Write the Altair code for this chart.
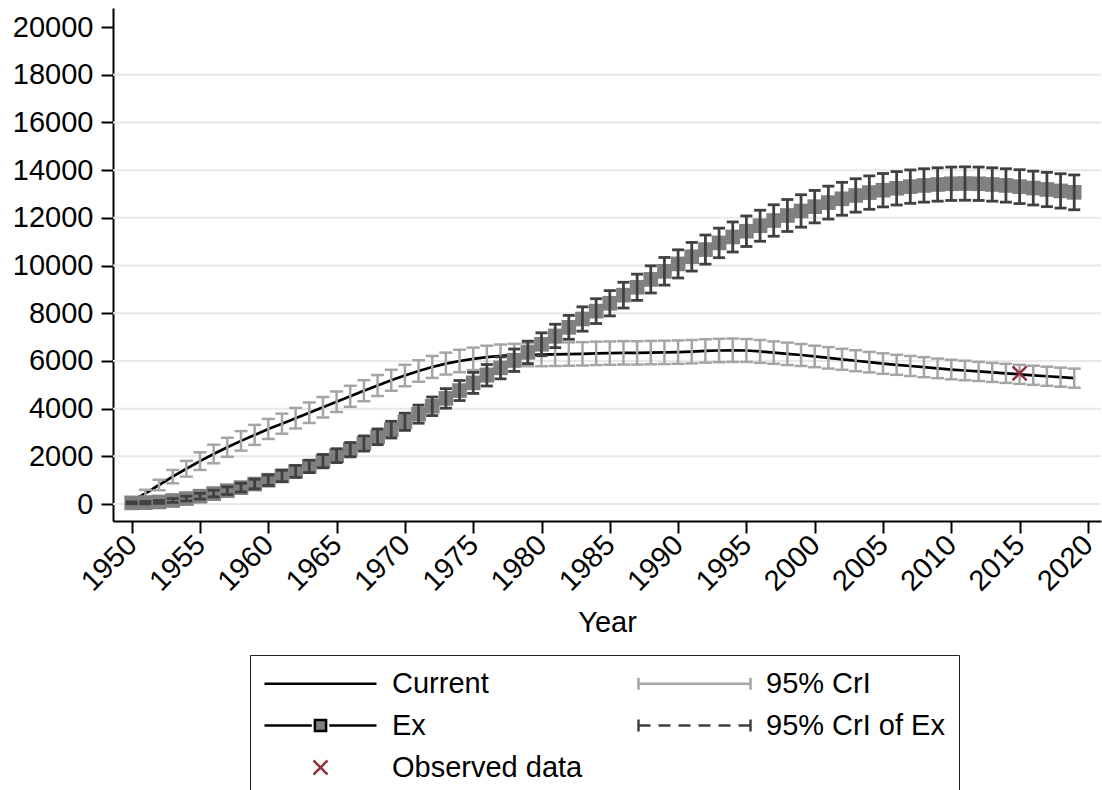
import altair as alt
import pandas as pd

FONT = "Arial"
FS = 29

# ---- data -------------------------------------------------------------
years = list(range(1950, 2020))

current = [
    120, 450, 800, 1150, 1480, 1800, 2100, 2380, 2650, 2900,
    3150, 3370, 3600, 3830, 4060, 4290, 4520, 4750, 4970, 5190,
    5390, 5580, 5750, 5890, 6000, 6090, 6160, 6210, 6240, 6260,
    6270, 6280, 6290, 6300, 6320, 6330, 6340, 6340, 6350, 6360,
    6370, 6390, 6420, 6440, 6450, 6440, 6400, 6350, 6300, 6250,
    6190, 6130, 6070, 6010, 5950, 5890, 5840, 5790, 5740, 5690,
    5640, 5600, 5560, 5520, 5480, 5440, 5400, 5360, 5320, 5280,
]
current_hw = [
    60, 150, 220, 280, 330, 370, 390, 400, 410, 420,
    420, 420, 430, 430, 430, 430, 440, 440, 440, 440,
    450, 450, 460, 460, 470, 470, 480, 480, 480, 480,
    490, 490, 490, 490, 490, 490, 490, 490, 490, 490,
    490, 490, 490, 490, 490, 480, 480, 470, 470, 460,
    450, 450, 440, 440, 430, 430, 420, 420, 420, 410,
    410, 410, 400, 400, 400, 400, 400, 400, 400, 400,
]
ex = [
    50, 60, 90, 150, 230, 330, 440, 560, 690, 840,
    1000, 1180, 1370, 1580, 1800, 2030, 2280, 2540, 2820, 3120,
    3450, 3770, 4100, 4430, 4760, 5080, 5400, 5710, 6030, 6360,
    6700, 7050, 7410, 7760, 8090, 8420, 8760, 9090, 9420, 9760,
    10070, 10370, 10670, 10950, 11200, 11440, 11670, 11890, 12100, 12290,
    12470, 12640, 12800, 12940, 13060, 13160, 13240, 13310, 13360, 13400,
    13430, 13440, 13430, 13400, 13360, 13310, 13250, 13190, 13130, 13070,
]
ex_hw = [
    40, 50, 60, 80, 100, 120, 140, 160, 180, 200,
    220, 240, 250, 260, 280, 290, 300, 320, 330, 350,
    360, 380, 390, 410, 420, 440, 450, 460, 470, 470,
    480, 490, 500, 510, 520, 530, 540, 550, 570, 580,
    590, 600, 610, 620, 630, 640, 650, 660, 670, 680,
    680, 690, 690, 700, 700, 700, 700, 700, 700, 700,
    700, 700, 700, 700, 700, 710, 710, 720, 720, 730,
]
observed_year = [2015]
observed_value = [5480]

y_ticks = [0, 2000, 4000, 6000, 8000, 10000, 12000, 14000, 16000, 18000, 20000]
grid_values = [0, 2000, 4000, 6000, 8000, 10000, 12000, 14000, 16000, 18000]
x_ticks = [1950, 1955, 1960, 1965, 1970, 1975, 1980, 1985, 1990, 1995,
           2000, 2005, 2010, 2015, 2020]

# legend entries, listed column by column (two columns)
legend_labels = ["Current", "Ex", "Observed data", "95% CrI", "95% CrI of Ex"]

# ---- colours ------------------------------------------------------------
BLACK = "#000000"
CI_GRAY = "#a5a5a5"
EX_GRAY = "#808080"
EX_CI = "#404040"
OBS = "#902d3e"
GRID = "#e8e8e8"

df = pd.DataFrame({
    "year": years,
    "current": current,
    "cur_lo": [c - h for c, h in zip(current, current_hw)],
    "cur_hi": [c + h for c, h in zip(current, current_hw)],
    "ex": ex,
    "ex_lo": [c - h for c, h in zip(ex, ex_hw)],
    "ex_hi": [c + h for c, h in zip(ex, ex_hw)],
})
obs_df = pd.DataFrame({"year": observed_year, "value": observed_value})
grid_df = pd.DataFrame({"g": grid_values})

# ---- scales / axes ------------------------------------------------------
xs = alt.Scale(domain=[1948.63, 2020.96], nice=False, zero=False)
ys = alt.Scale(domain=[-710, 20800], nice=False, zero=False)

x_axis = alt.Axis(values=x_ticks, format="d", labelAngle=-45, labelAlign="right",
                  labelBaseline="middle", tickSize=12, tickWidth=2, domainWidth=2,
                  labelPadding=7, grid=False, title="Year", titlePadding=12)
y_axis = alt.Axis(values=y_ticks, format="d", tickSize=12, tickWidth=2,
                  domainWidth=2, labelPadding=8, grid=False, title=None)

X = alt.X("year:Q", scale=xs, axis=x_axis)


def Y(field):
    return alt.Y(f"{field}:Q", scale=ys, axis=y_axis)


# ---- legend keys: custom symbol paths (7 px per unit at size 196) -------
key_shapes = [
    "M-8,0H8",                                       # Current
    "M-8,0H-1.25M1.25,0H8M-0.8,-0.8H0.8V0.8H-0.8Z",  # Ex
    "M-1,-1L1,1M-1,1L1,-1",                          # Observed data
    "M-8,-0.85V0.85M8,-0.85V0.85M-8,0H8",            # 95% CrI
    "M-8,-0.85V0.85M8,-0.85V0.85M-8,0H8",            # 95% CrI of Ex
]
key_strokes = [BLACK, BLACK, OBS, CI_GRAY, EX_CI]
key_fills = ["transparent", EX_GRAY, "transparent", "transparent", "transparent"]
key_dashes = [[1, 0], [1, 0], [1, 0], [1, 0], [12, 8]]


def make_legend():
    return alt.Legend(
        title=None, orient="none", legendX=137, legendY=647, columns=2,
        columnPadding=50, rowPadding=12, padding=14, strokeColor="#222222",
        fillColor="white", labelFont=FONT, labelFontSize=FS, labelColor="black",
        labelLimit=400, symbolSize=196, symbolOffset=42, labelOffset=57,
        symbolStrokeWidth=2.5, symbolOpacity=1,
    )


# ---- layers -------------------------------------------------------------
grid = alt.Chart(grid_df).mark_rule(color=GRID, strokeWidth=2).encode(y=Y("g"))

cur_line = alt.Chart(df).mark_line(color=BLACK, strokeWidth=2.7).encode(
    x=X, y=Y("current"))
cur_rule = alt.Chart(df).mark_rule(color=CI_GRAY, strokeWidth=2.5).encode(
    x=X, y=Y("cur_lo"), y2="cur_hi")
cur_cap_lo = alt.Chart(df).mark_tick(color=CI_GRAY, orient="horizontal", size=13,
                                     thickness=2.5, opacity=1).encode(x=X, y=Y("cur_lo"))
cur_cap_hi = alt.Chart(df).mark_tick(color=CI_GRAY, orient="horizontal", size=13,
                                     thickness=2.5, opacity=1).encode(x=X, y=Y("cur_hi"))

ex_line = alt.Chart(df).mark_line(color=BLACK, strokeWidth=2).encode(x=X, y=Y("ex"))
ex_sq = alt.Chart(df).mark_square(color=EX_GRAY, size=215, opacity=1, filled=True).encode(
    x=X, y=Y("ex"))
ex_rule = alt.Chart(df).mark_rule(color=EX_CI, strokeWidth=2.8).encode(
    x=X, y=Y("ex_lo"), y2="ex_hi")
ex_cap_lo = alt.Chart(df).mark_tick(color=EX_CI, orient="horizontal", size=12,
                                    thickness=2.8, opacity=1).encode(x=X, y=Y("ex_lo"))
ex_cap_hi = alt.Chart(df).mark_tick(color=EX_CI, orient="horizontal", size=12,
                                    thickness=2.8, opacity=1).encode(x=X, y=Y("ex_hi"))

# observed point; its series field also drives the (merged) legend
obs = alt.Chart(obs_df).transform_calculate(series="'Observed data'").mark_point(
    size=196, strokeWidth=2.5, opacity=1, filled=True,
).encode(
    x=X, y=Y("value"),
    stroke=alt.Stroke("series:N", scale=alt.Scale(domain=legend_labels, range=key_strokes),
                      legend=make_legend()),
    fill=alt.Fill("series:N", scale=alt.Scale(domain=legend_labels, range=key_fills),
                  legend=make_legend()),
    shape=alt.Shape("series:N", scale=alt.Scale(domain=legend_labels, range=key_shapes),
                    legend=make_legend()),
    strokeDash=alt.StrokeDash("series:N",
                              scale=alt.Scale(domain=legend_labels, range=key_dashes),
                              legend=make_legend()),
)

chart = alt.layer(
    grid, cur_line, cur_rule, cur_cap_lo, cur_cap_hi,
    ex_line, ex_sq, ex_rule, ex_cap_lo, ex_cap_hi, obs,
).properties(
    width=988, height=513,
    autosize=alt.AutoSizeParams(type="none"),
    padding={"left": 113, "top": 8, "right": 1, "bottom": 269},
    background="white",
).configure(font=FONT).configure_view(stroke=None).configure_axis(
    labelFont=FONT, labelFontSize=FS, labelColor="black", titleFont=FONT,
    titleFontSize=FS, titleFontWeight="normal", titleColor="black",
    domainColor="black", tickColor="black",
)

chart.save("out.html", embed_options={"renderer": "svg", "actions": False})
